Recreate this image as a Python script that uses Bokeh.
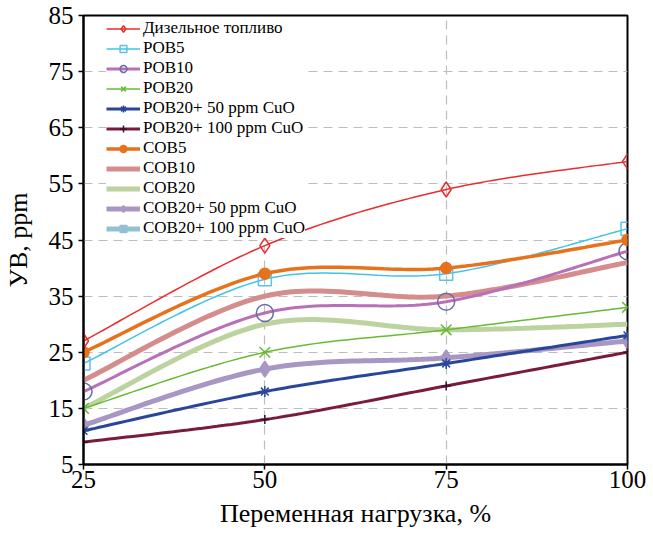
import numpy as np
from bokeh.plotting import figure
from bokeh.models import Legend, LegendItem, FixedTicker
from bokeh.embed import file_html
from bokeh.resources import INLINE

load = [25, 50, 75, 100]
names = ["Дизельное топливо", "POB5", "POB10", "POB20", "POB20+ 50 ppm CuO",
         "POB20+ 100 ppm CuO", "COB5", "COB10", "COB20", "COB20+ 50 ppm CuO",
         "COB20+ 100 ppm CuO"]
diesel = [27, 44, 54, 59]
pob5 = [23, 38, 39, 47]
pob10 = [18, 32, 34, 43]
pob20 = [15, 25, 29, 33]
pob20_50 = [11, 18, 23, 28]
pob20_100 = [9, 13, 19, 25]
cob5 = [25, 39, 40, 45]
cob10 = [20, 35, 35, 41]
cob20 = [15, 30, 29, 30]
cob20_50 = [12, 22, 24, 27]
cob20_100 = [float("nan")] * 4  # not visible in the plot area
y_ticks = [5, 15, 25, 35, 45, 55, 65, 75, 85]
x_ticks = [25, 50, 75, 100]

FONT = "Liberation Serif"


def smooth(xs, ys, n=30):
    """Catmull-Rom style Bezier smoothing (drawing only)."""
    P = np.array(list(zip(xs, ys)), dtype=float)
    if np.isnan(P).any():
        return list(xs), list(ys)
    out = []
    for i in range(len(P) - 1):
        p0 = P[i - 1] if i > 0 else P[i]
        p1 = P[i]
        p2 = P[i + 1]
        p3 = P[i + 2] if i + 2 < len(P) else P[i + 1]
        c1 = p1 + (p2 - p0) / 6.0
        c2 = p2 - (p3 - p1) / 6.0
        t = np.linspace(0, 1, n)[:, None]
        seg = ((1 - t) ** 3) * p1 + 3 * ((1 - t) ** 2) * t * c1 + 3 * (1 - t) * t ** 2 * c2 + t ** 3 * p2
        if i > 0:
            seg = seg[1:]
        out.append(seg)
    arr = np.vstack(out)
    return arr[:, 0].tolist(), arr[:, 1].tolist()


p = figure(frame_width=544, frame_height=449, x_range=(25, 100), y_range=(5, 85),
           output_backend="svg", toolbar_location=None,
           min_border_left=74, min_border_right=19, min_border_top=15, min_border_bottom=58)
p.background_fill_color = "white"
p.border_fill_color = "white"
p.outline_line_color = "black"
p.outline_line_width = 2

for ax in (p.xaxis[0], p.yaxis[0]):
    ax.axis_line_color = "black"
    ax.axis_line_width = 2
    ax.major_tick_line_color = "black"
    ax.major_tick_line_width = 1.5
    ax.major_tick_in = 0
    ax.major_tick_out = 5
    ax.minor_tick_line_color = None
    ax.major_label_text_font = FONT
    ax.major_label_text_font_size = "25px"
    ax.major_label_text_font_style = "normal"
    ax.major_label_text_color = "black"
    ax.axis_label_text_font = FONT
    ax.axis_label_text_font_size = "26px"
    ax.axis_label_text_font_style = "normal"
    ax.axis_label_text_color = "black"
p.xaxis.ticker = FixedTicker(ticks=x_ticks)
p.yaxis.ticker = FixedTicker(ticks=y_ticks)
p.xaxis.axis_label = "Переменная нагрузка, %"
p.yaxis.axis_label = "УВ, ppm"
p.xaxis.major_label_standoff = 1
p.yaxis.major_label_standoff = 5
p.xaxis.axis_label_standoff = 8
p.yaxis.axis_label_standoff = 13

for g in (p.xgrid[0], p.ygrid[0]):
    g.grid_line_color = "#bdbdbd"
    g.grid_line_dash = "9 6"
    g.grid_line_width = 1.2

series = [
    (names[0], diesel, "#ee2b2b", 1.5, "diamond", 15, None, "#ee2b2b"),
    (names[1], pob5, "#3fc2ee", 1.5, "square", 13, None, "#5fc3e0"),
    (names[2], pob10, "#b870b8", 3, "circle", 17, None, "#6a6aa8"),
    (names[3], pob20, "#66bb33", 1.5, "x", 15, None, "#66bb33"),
    (names[4], pob20_50, "#28479a", 3, "asterisk", 11, None, "#28479a"),
    (names[5], pob20_100, "#7a1a3c", 3, "cross", 9, None, "#3a1030"),
    (names[6], cob5, "#e8721c", 3.5, "circle", 11, "#e8721c", "#e8721c"),
    (names[7], cob10, "#d48c8c", 5, None, 0, None, None),
    (names[8], cob20, "#bcd3a0", 5, None, 0, None, None),
    (names[9], cob20_50, "#a897c2", 5, "diamond", 16, "#a897c2", "#a897c2"),
    (names[10], cob20_100, "#93c1d3", 5, "square", 11, "#93c1d3", "#93c1d3"),
]

draw_order = [10, 8, 7, 9, 5, 4, 3, 2, 1, 6, 0]
renderers = {}
for idx in draw_order:
    name, ys, col, w, mk, ms, mfill, mline = series[idx]
    xs = load[:len(ys)]
    sx, sy = smooth(xs, ys)
    r_line = p.line(x=sx, y=sy, line_color=col, line_width=w)
    rs = [r_line]
    if mk is not None:
        r_m = p.scatter(x=xs, y=ys, marker=mk, size=ms,
                        fill_color=mfill if mfill else None,
                        line_color=mline, line_width=1.5)
        rs.append(r_m)
    renderers[idx] = rs

items = [LegendItem(label=series[i][0], renderers=renderers[i]) for i in range(len(series))]

legend = Legend(items=items, location=(23, 226), orientation="vertical")
legend.label_text_font = FONT
legend.label_text_font_size = "17px"
legend.label_text_font_style = "normal"
legend.label_text_color = "black"
legend.label_height = 17
legend.label_standoff = 3
legend.glyph_height = 17
legend.glyph_width = 34
legend.spacing = 0
legend.padding = 0
legend.margin = 0
legend.border_line_color = None
legend.background_fill_color = "white"
legend.background_fill_alpha = 1.0
p.add_layout(legend, "center")

open("out.html", "w").write(file_html(p, INLINE))
